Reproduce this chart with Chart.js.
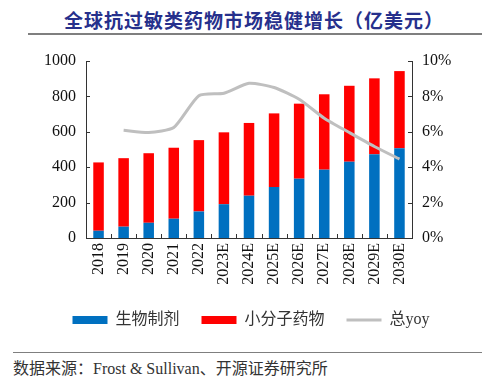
<!DOCTYPE html>
<html><head><meta charset="utf-8">
<script src="https://cdn.jsdelivr.net/npm/chart.js@4"></script>
<style>
body{margin:0;width:488px;height:387px;background:#fff;position:relative;overflow:hidden;}
#title{position:absolute;left:10px;width:488px;top:6px;text-align:center;font:bold 19px "Noto Sans CJK SC";color:#26308c;letter-spacing:1px;}
#l1{position:absolute;left:28px;width:454px;top:33px;height:2px;background:#7f7f7f;}
#l2{position:absolute;left:13px;width:469px;top:352px;height:1px;background:#7f7f7f;}
#src{position:absolute;left:13px;top:355px;font:16px "Liberation Serif","Noto Sans CJK SC";color:#333;}
#wrap{position:absolute;left:7px;top:40px;width:488px;height:302px;}
</style></head><body>
<div id="title">全球抗过敏类药物市场稳健增长（亿美元）</div>
<div id="l1"></div>
<div id="wrap"><canvas id="c"></canvas></div>
<div id="l2"></div>
<div id="src">数据来源：Frost &amp; Sullivan、开源证券研究所</div>
<script>
const categories=["2018","2019","2020","2021","2022","2023E","2024E","2025E","2026E","2027E","2028E","2029E","2030E"];
const biologics=[41,64,86,109,150,191,239,288,335,386,431,473,507];
const smallMolecule=[386,387,393,401,403,406,411,416,424,426,429,429,436];
const totalYoy=[null,0.0609,0.0596,0.0624,0.0804,0.0818,0.0874,0.0850,0.0784,0.0677,0.0596,0.0517,0.0446];
const leftTicks=[0,200,400,600,800,1000];
const rightTicks=[0,0.02,0.04,0.06,0.08,0.10];

const serif='"Liberation Serif","Noto Sans CJK SC"';
const inwardTicks={id:'inwardTicks',afterDraw(chart){
  const ctx=chart.ctx;const a=chart.chartArea;
  const y=chart.scales.y,y1=chart.scales.y1,x=chart.scales.x;
  ctx.save();ctx.strokeStyle='#333';ctx.lineWidth=1;ctx.beginPath();
  leftTicks.forEach(v=>{const p=Math.round(y.getPixelForValue(v))+0.5;ctx.moveTo(a.left,p);ctx.lineTo(a.left+4,p);});
  rightTicks.forEach(v=>{const p=Math.round(y1.getPixelForValue(v))+0.5;ctx.moveTo(a.right,p);ctx.lineTo(a.right-4,p);});
  for(let i=0;i<categories.length-1;i++){const p=Math.round(x.getPixelForValue(i+0.5))+0.5;ctx.moveTo(p,a.bottom);ctx.lineTo(p,a.bottom-4);}
  ctx.stroke();ctx.restore();
}};
new Chart(document.getElementById('c'),{
  data:{labels:categories,datasets:[
    {type:'bar',label:'生物制剂',data:biologics,backgroundColor:'#0070c0',yAxisID:'y',stack:'s',barPercentage:0.42,categoryPercentage:1,order:2,pointStyle:'rect'},
    {type:'bar',label:'小分子药物',data:smallMolecule,backgroundColor:'#ff0000',yAxisID:'y',stack:'s',barPercentage:0.42,categoryPercentage:1,order:2,pointStyle:'rect'},
    {type:'line',label:'总yoy',data:totalYoy,borderColor:'#bfbfbf',backgroundColor:'#bfbfbf',borderWidth:3,pointRadius:0,tension:0.2,yAxisID:'y1',order:1,pointStyle:'line'}
  ]},
  options:{responsive:true,maintainAspectRatio:false,animation:false,
    layout:{padding:{top:21,bottom:4,left:0,right:0}},
    plugins:{legend:{position:'bottom',labels:{usePointStyle:true,pointStyleWidth:35,boxHeight:8,padding:22,color:'#333',font:{family:serif,size:16},sort:(a,b)=>a.datasetIndex-b.datasetIndex}},tooltip:{enabled:false}},
    scales:{
      x:{stacked:true,offset:true,grid:{display:false,drawTicks:false},border:{color:'#333'},
        ticks:{color:'#111',font:{family:serif,size:16},maxRotation:90,minRotation:90,autoSkip:false,padding:5},
        afterFit(s){s.height=52;}},
      y:{stacked:true,min:0,max:1000,position:'left',grid:{display:false,drawTicks:false},border:{color:'#333'},
        ticks:{stepSize:200,color:'#111',font:{family:serif,size:16},padding:10,callback:v=>String(v)},
        afterFit(s){s.width=79;}},
      y1:{min:0,max:0.1,position:'right',grid:{display:false,drawTicks:false},border:{color:'#333'},
        ticks:{stepSize:0.02,color:'#111',font:{family:serif,size:16},padding:10,callback:v=>Math.round(v*100)+'%'},
        afterFit(s){s.width=83;}}
    }},
  plugins:[inwardTicks]
});
</script></body></html>
